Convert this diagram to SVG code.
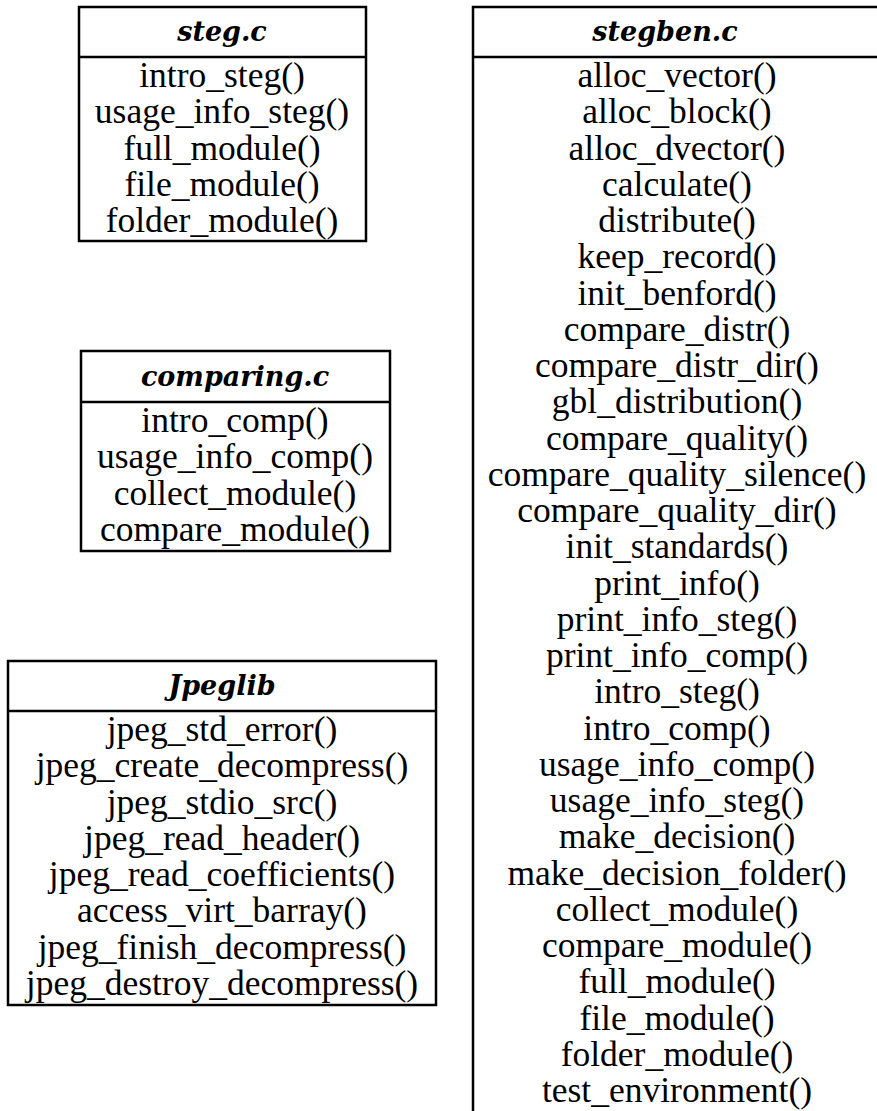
<svg xmlns="http://www.w3.org/2000/svg" width="877" height="1111" viewBox="0 0 877 1111">
  <style>
    .box { fill: #fff; stroke: #000; stroke-width: 2.5; }
    .div { stroke: #000; stroke-width: 2.5; }
    .hdr { font-family: "DejaVu Serif", "Liberation Serif", serif; font-weight: bold; font-style: italic; font-size: 27px; text-anchor: middle; fill: #000; }
    .fn { font-family: "Liberation Serif", serif; font-size: 35.5px; text-anchor: middle; fill: #000; }
  </style>
  <rect width="877" height="1111" fill="#fff"/>

  <!-- steg.c module -->
  <g id="steg">
    <rect class="box" x="79" y="7" width="287" height="234"/>
    <line class="div" x1="79" y1="57" x2="366" y2="57"/>
    <text class="hdr" x="222" y="41">steg.c</text>
    <text class="fn" x="222" y="87">intro_steg()</text>
    <text class="fn" x="222" y="123.25">usage_info_steg()</text>
    <text class="fn" x="222" y="159.5">full_module()</text>
    <text class="fn" x="222" y="195.75">file_module()</text>
    <text class="fn" x="222" y="232">folder_module()</text>
  </g>

  <!-- comparing.c module -->
  <g id="comparing">
    <rect class="box" x="81" y="351" width="309" height="200"/>
    <line class="div" x1="81" y1="402" x2="390" y2="402"/>
    <text class="hdr" x="235" y="386">comparing.c</text>
    <text class="fn" x="235" y="432">intro_comp()</text>
    <text class="fn" x="235" y="468.25">usage_info_comp()</text>
    <text class="fn" x="235" y="504.5">collect_module()</text>
    <text class="fn" x="235" y="540.75">compare_module()</text>
  </g>

  <!-- Jpeglib -->
  <g id="jpeglib">
    <rect class="box" x="8" y="661" width="428" height="344"/>
    <line class="div" x1="8" y1="711" x2="436" y2="711"/>
    <text class="hdr" x="222" y="695">Jpeglib</text>
    <text class="fn" x="222" y="741">jpeg_std_error()</text>
    <text class="fn" x="222" y="777.25">jpeg_create_decompress()</text>
    <text class="fn" x="222" y="813.5">jpeg_stdio_src()</text>
    <text class="fn" x="222" y="849.75">jpeg_read_header()</text>
    <text class="fn" x="222" y="886">jpeg_read_coefficients()</text>
    <text class="fn" x="222" y="922.25">access_virt_barray()</text>
    <text class="fn" x="222" y="958.5">jpeg_finish_decompress()</text>
    <text class="fn" x="222" y="994.75">jpeg_destroy_decompress()</text>
  </g>

  <!-- stegben.c module (runs past the right and bottom page edges) -->
  <g id="stegben">
    <rect class="box" x="473" y="7" width="430" height="1130"/>
    <line class="div" x1="473" y1="57" x2="877" y2="57"/>
    <text class="hdr" x="665" y="41">stegben.c</text>
    <text class="fn" x="677" y="87">alloc_vector()</text>
    <text class="fn" x="677" y="123.25">alloc_block()</text>
    <text class="fn" x="677" y="159.5">alloc_dvector()</text>
    <text class="fn" x="677" y="195.75">calculate()</text>
    <text class="fn" x="677" y="232">distribute()</text>
    <text class="fn" x="677" y="268.25">keep_record()</text>
    <text class="fn" x="677" y="304.5">init_benford()</text>
    <text class="fn" x="677" y="340.75">compare_distr()</text>
    <text class="fn" x="677" y="377">compare_distr_dir()</text>
    <text class="fn" x="677" y="413.25">gbl_distribution()</text>
    <text class="fn" x="677" y="449.5">compare_quality()</text>
    <text class="fn" x="677" y="485.75">compare_quality_silence()</text>
    <text class="fn" x="677" y="522">compare_quality_dir()</text>
    <text class="fn" x="677" y="558.25">init_standards()</text>
    <text class="fn" x="677" y="594.5">print_info()</text>
    <text class="fn" x="677" y="630.75">print_info_steg()</text>
    <text class="fn" x="677" y="667">print_info_comp()</text>
    <text class="fn" x="677" y="703.25">intro_steg()</text>
    <text class="fn" x="677" y="739.5">intro_comp()</text>
    <text class="fn" x="677" y="775.75">usage_info_comp()</text>
    <text class="fn" x="677" y="812">usage_info_steg()</text>
    <text class="fn" x="677" y="848.25">make_decision()</text>
    <text class="fn" x="677" y="884.5">make_decision_folder()</text>
    <text class="fn" x="677" y="920.75">collect_module()</text>
    <text class="fn" x="677" y="957">compare_module()</text>
    <text class="fn" x="677" y="993.25">full_module()</text>
    <text class="fn" x="677" y="1029.5">file_module()</text>
    <text class="fn" x="677" y="1065.75">folder_module()</text>
    <text class="fn" x="677" y="1102">test_environment()</text>
  </g>
</svg>
